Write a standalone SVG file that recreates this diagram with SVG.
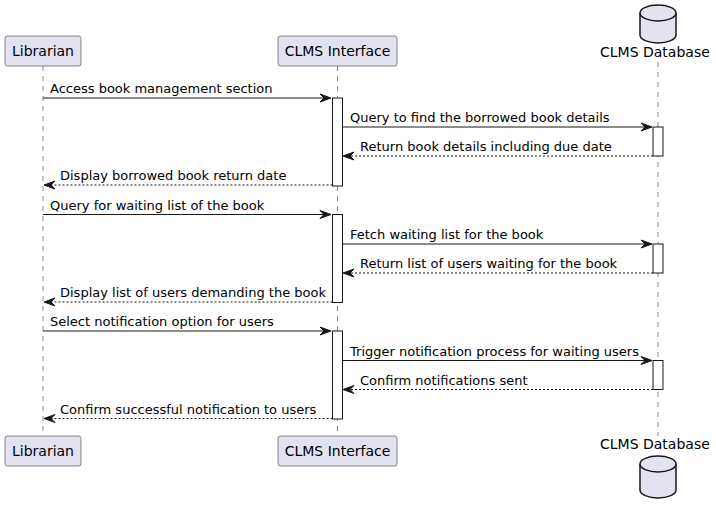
<svg xmlns="http://www.w3.org/2000/svg" width="716" height="514" viewBox="0 0 716 514">
<defs>
<style>
.pbox{fill:#E2E2F0;stroke:#181818;stroke-width:0.5}
.pname{font-family:"DejaVu Sans",sans-serif;font-size:14px;fill:#000}
.life{stroke:#181818;stroke-width:0.5;stroke-dasharray:5,5;fill:none}
.act{fill:#FFFFFF;stroke:#181818;stroke-width:1}
.msg{stroke:#181818;stroke-width:1;fill:none}
.ret{stroke:#181818;stroke-width:1;fill:none;stroke-dasharray:2,2}
.lbl{font-family:"DejaVu Sans",sans-serif;font-size:13px;fill:#000}
.db{fill:#E2E2F0;stroke:#181818;stroke-width:1.5}
.head{fill:#181818;stroke:#181818;stroke-width:1}
</style>
</defs>
<rect width="716" height="514" fill="#FFFFFF"/>
<g id="lifelines">
<line class="life" x1="43" y1="66" x2="43" y2="436"/>
<line class="life" x1="337.5" y1="66" x2="337.5" y2="436"/>
<line class="life" x1="658" y1="62" x2="658" y2="436"/>
</g>
<g id="activations">
<rect class="act" x="332.5" y="98" width="10" height="88"/>
<rect class="act" x="332.5" y="214.5" width="10" height="88"/>
<rect class="act" x="332.5" y="331" width="10" height="88"/>
<rect class="act" x="653" y="127" width="10" height="29"/>
<rect class="act" x="653" y="244" width="10" height="29"/>
<rect class="act" x="653" y="360.5" width="10" height="29"/>
</g>
<g id="librarian_top">
<rect class="pbox" x="5" y="36" width="76" height="30" rx="2.5"/>
<text class="pname" x="43" y="56" text-anchor="middle">Librarian</text>
</g>
<g id="interface_top">
<rect class="pbox" x="278" y="36" width="119" height="30" rx="2.5"/>
<text class="pname" x="337.5" y="56" text-anchor="middle">CLMS Interface</text>
</g>
<g id="database_top">
<path class="db" d="M640,13 A18,8 0 0 1 676,13 L676,35 A18,8 0 0 1 640,35 Z"/>
<path class="db" fill="none" d="M640,13 A18,8 0 0 0 676,13"/>
<text class="pname" x="600" y="57">CLMS Database</text>
</g>
<g id="librarian_bottom">
<rect class="pbox" x="5" y="436" width="76" height="30" rx="2.5"/>
<text class="pname" x="43" y="456" text-anchor="middle">Librarian</text>
</g>
<g id="interface_bottom">
<rect class="pbox" x="278" y="436" width="119" height="30" rx="2.5"/>
<text class="pname" x="337.5" y="456" text-anchor="middle">CLMS Interface</text>
</g>
<g id="database_bottom">
<text class="pname" x="600" y="449">CLMS Database</text>
<path class="db" d="M640,464 A18,8 0 0 1 676,464 L676,490 A18,8 0 0 1 640,490 Z"/>
<path class="db" fill="none" d="M640,464 A18,8 0 0 0 676,464"/>
</g>
<g id="connectors">
<line class="msg" x1="43" y1="98" x2="330" y2="98"/>
<polygon class="head" points="320,94 331,98 320,102 324,98"/>
<text class="lbl" x="50" y="93">Access book management section</text>

<line class="msg" x1="342.5" y1="127" x2="651" y2="127"/>
<polygon class="head" points="641,123 652,127 641,131 645,127"/>
<text class="lbl" x="350" y="122">Query to find the borrowed book details</text>

<line class="ret" x1="653" y1="156" x2="344" y2="156"/>
<polygon class="head" points="354,152 343,156 354,160 350,156"/>
<text class="lbl" x="360" y="151">Return book details including due date</text>

<line class="ret" x1="332.5" y1="185" x2="45" y2="185"/>
<polygon class="head" points="55,181 44,185 55,189 51,185"/>
<text class="lbl" x="60" y="180">Display borrowed book return date</text>

<line class="msg" x1="43" y1="214.5" x2="330" y2="214.5"/>
<polygon class="head" points="320,210.5 331,214.5 320,218.5 324,214.5"/>
<text class="lbl" x="50" y="209.5">Query for waiting list of the book</text>

<line class="msg" x1="342.5" y1="244" x2="651" y2="244"/>
<polygon class="head" points="641,240 652,244 641,248 645,244"/>
<text class="lbl" x="350" y="239">Fetch waiting list for the book</text>

<line class="ret" x1="653" y1="273" x2="344" y2="273"/>
<polygon class="head" points="354,269 343,273 354,277 350,273"/>
<text class="lbl" x="360" y="268">Return list of users waiting for the book</text>

<line class="ret" x1="332.5" y1="302" x2="45" y2="302"/>
<polygon class="head" points="55,298 44,302 55,306 51,302"/>
<text class="lbl" x="60" y="297">Display list of users demanding the book</text>

<line class="msg" x1="43" y1="331" x2="330" y2="331"/>
<polygon class="head" points="320,327 331,331 320,335 324,331"/>
<text class="lbl" x="50" y="326">Select notification option for users</text>

<line class="msg" x1="342.5" y1="360.5" x2="651" y2="360.5"/>
<polygon class="head" points="641,356.5 652,360.5 641,364.5 645,360.5"/>
<text class="lbl" x="350" y="355.5">Trigger notification process for waiting users</text>

<line class="ret" x1="653" y1="389.5" x2="344" y2="389.5"/>
<polygon class="head" points="354,385.5 343,389.5 354,393.5 350,389.5"/>
<text class="lbl" x="360" y="384.5">Confirm notifications sent</text>

<line class="ret" x1="332.5" y1="418.5" x2="45" y2="418.5"/>
<polygon class="head" points="55,414.5 44,418.5 55,422.5 51,418.5"/>
<text class="lbl" x="60" y="413.5">Confirm successful notification to users</text>
</g>
</svg>
